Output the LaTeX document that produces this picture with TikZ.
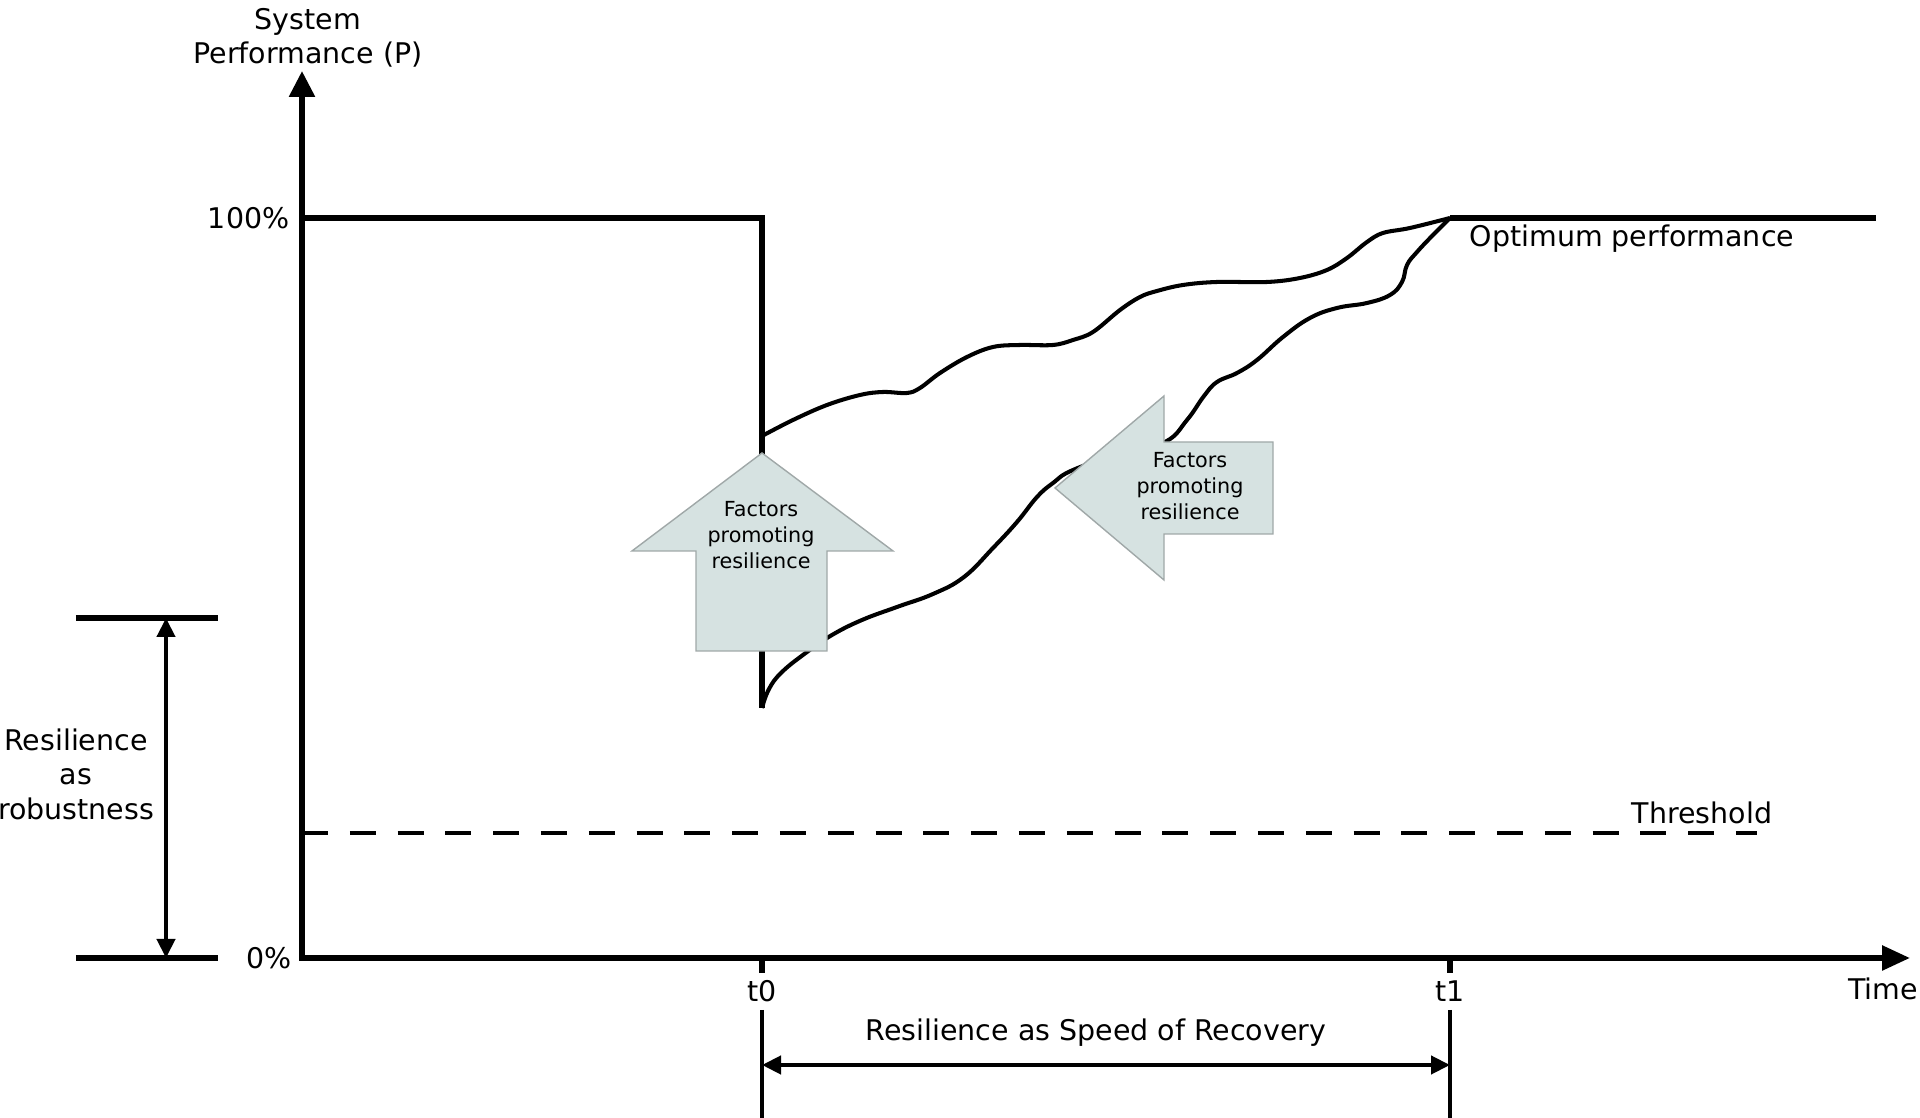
\documentclass[tikz,border=0pt]{standalone}
\usepackage{fontspec}
\setmainfont{DejaVu Sans}
\usetikzlibrary{arrows.meta}
\definecolor{factorfill}{RGB}{214,226,225}
\definecolor{factorline}{RGB}{160,168,168}
\tikzset{
  axis/.style = {line width=1.6pt, {Triangle[length=0.26cm, width=0.25cm]}-{Triangle[length=0.28cm, width=0.24cm]}},
  curve/.style = {line width=1.15pt},
  level/.style = {line width=1.45pt},
  spanarrow/.style = {line width=1.2pt, {Triangle[length=0.19cm, width=0.18cm]}-{Triangle[length=0.19cm, width=0.18cm]}},
  factor/.style = {fill=factorfill, draw=factorline, line width=0.4pt},
  lbl/.style = {font=\fontsize{8.1}{9.8}\selectfont, align=center, inner sep=0pt},
  factortext/.style = {font=\fontsize{5.9}{7.3}\selectfont, align=center, inner sep=0pt}
}
\begin{document}
\begin{tikzpicture}
    \useasboundingbox (-3.02, -1.60) rectangle (16.18, 9.58);
    \coordinate (O) at (0, 0);
    \coordinate (ytop) at (0, 8.87);
    \coordinate (xend) at (16.08, 0);
    \coordinate (t0) at (4.60, 0);
    \coordinate (t1) at (11.48, 0);

    \draw [axis] (ytop) -- (O) -- (xend);
    \node [lbl] (ylabel) at (0.06, 9.20) {System\\Performance (P)};
    \node [lbl, anchor = east] (full) at (-0.12, 7.40) {100\%};
    \node [lbl, anchor = east] (zero) at (-0.10, 0) {0\%};
    \node [lbl] (time) at (15.81, -0.31) {Time};

    \foreach \t in {t0, t1} {
      \draw [level] (\t) -- ++(0, -0.15);
      \node [lbl] (\t lbl) at ([yshift=-0.33cm] \t) {\t};
      \draw [curve] ([yshift=-0.52cm] \t) -- ([yshift=-1.60cm] \t);
    }
    \coordinate (s0) at (4.60, -1.07);
    \coordinate (s1) at (11.48, -1.07);
    \draw [spanarrow] (s0) -- (s1);
    \node [lbl] (speed) at (7.94, -0.75) {Resilience as Speed of Recovery};

    \draw [level] (0, 7.40) -- (4.60, 7.40) -- (4.60, 2.50);
    \draw [curve] plot [smooth, tension = 0.6] coordinates {
      (4.60, 5.22) (4.91, 5.38) (5.25, 5.53) (5.58, 5.63) (5.81, 5.66)
      (6.05, 5.65) (6.18, 5.70) (6.38, 5.85) (6.65, 6.01) (6.91, 6.11)
      (7.18, 6.13) (7.51, 6.13) (7.71, 6.18) (7.91, 6.26) (8.18, 6.48)
      (8.38, 6.61) (8.55, 6.67) (8.81, 6.73) (9.15, 6.76) (9.65, 6.76)
      (9.98, 6.80) (10.25, 6.88) (10.45, 7.00) (10.65, 7.16) (10.81, 7.25)
      (11.08, 7.30) (11.48, 7.40)};
    \draw [curve] plot [smooth, tension = 0.7] coordinates {
      (4.60, 2.50) (4.67, 2.69) (4.80, 2.86) (5.05, 3.06) (5.30, 3.23)
      (5.60, 3.38) (5.95, 3.51) (6.31, 3.64) (6.62, 3.81) (6.91, 4.10)
      (7.15, 4.36) (7.35, 4.61) (7.51, 4.75) (7.71, 4.88) (8.20, 5.05)
      (8.63, 5.16) (8.85, 5.38) (9.02, 5.62) (9.15, 5.76) (9.35, 5.85)
      (9.55, 5.98) (9.81, 6.21) (10.08, 6.40) (10.35, 6.50) (10.65, 6.55)
      (10.88, 6.63) (11.00, 6.76) (11.05, 6.93) (11.15, 7.06) (11.31, 7.23)
      (11.48, 7.40)};
    \draw [level] (11.48, 7.40) -- (15.74, 7.40);
    \node [lbl, anchor = west] (optimum) at (11.67, 7.19) {Optimum performance};

    \draw [curve, dash pattern = on 7.4pt off 6.2pt] (0, 1.25) -- (14.55, 1.25);
    \node [lbl] (threshold) at (14.00, 1.45) {Threshold};

    \coordinate (rtop) at (-1.36, 3.40);
    \coordinate (rbot) at (-1.36, 0);
    \draw [level] (-2.26, 3.40) -- (-0.84, 3.40);
    \draw [level] (-2.26, 0) -- (-0.84, 0);
    \draw [spanarrow] (rbot) -- (rtop);
    \node [lbl] (robust) at (-2.26, 1.84) {Resilience\\as\\robustness};

    \draw [factor] (4.60, 5.05) -- (5.91, 4.07) -- (5.25, 4.07) -- (5.25, 3.07)
      -- (3.94, 3.07) -- (3.94, 4.07) -- (3.30, 4.07) -- cycle;
    \node [factortext] (upfactors) at (4.59, 4.23) {Factors\\promoting\\resilience};
    \draw [factor] (7.53, 4.70) -- (8.62, 5.62) -- (8.62, 5.16) -- (9.71, 5.16)
      -- (9.71, 4.24) -- (8.62, 4.24) -- (8.62, 3.78) -- cycle;
    \node [factortext] (leftfactors) at (8.88, 4.72) {Factors\\promoting\\resilience};
  \end{tikzpicture}
\end{document}
